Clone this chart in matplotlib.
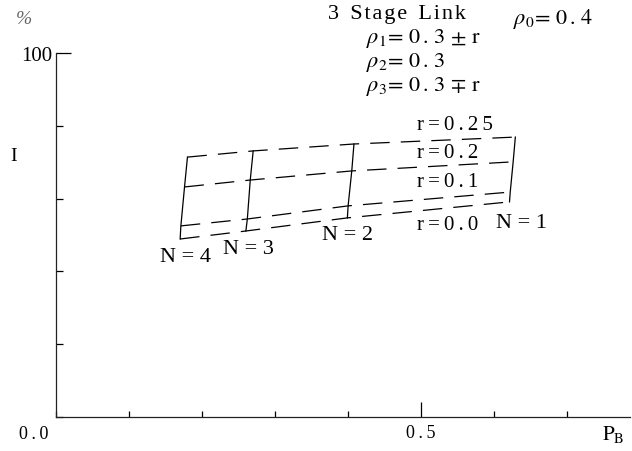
import matplotlib
matplotlib.use('Agg')
import matplotlib.pyplot as plt
from matplotlib.ticker import MultipleLocator

plt.rcParams['font.family'] = ['Liberation Serif', 'DejaVu Serif']
plt.rcParams['mathtext.fontset'] = 'stix'
plt.rcParams['lines.scale_dashes'] = False

TS = '\u2009'  # thin space for the wide letter spacing
HS = '\u200a'  # hair space


def spaced(s, sep=TS):
    return sep.join(s)


# r values of the curves and stage counts
r_values = [0.0, 0.1, 0.2, 0.25]
r_labels = ['r=0.0', 'r=0.1', 'r=0.2', 'r=0.25']
n_stages = [4, 3, 2, 1]

# P_B and I (%) for each N, ordered by r = 0.0, 0.1, 0.2, 0.25
pb_n4 = [0.170, 0.171, 0.176, 0.180]
pb_n3 = [0.260, 0.262, 0.266, 0.270]
pb_n2 = [0.399, 0.400, 0.405, 0.408]
pb_n1 = [0.621, 0.622, 0.626, 0.629]
i_n4 = [48.9, 52.5, 63.2, 71.4]
i_n3 = [51.1, 54.4, 65.1, 73.1]
i_n2 = [54.7, 58.0, 67.6, 75.0]
i_n1 = [59.1, 61.8, 70.1, 76.9]

pb = [pb_n4, pb_n3, pb_n2, pb_n1]
ival = [i_n4, i_n3, i_n2, i_n1]

fig = plt.figure(figsize=(6.32, 4.52), dpi=100)
ax = fig.add_axes([56 / 632, 1 - 418 / 452, 574 / 632, 364 / 452])

# constant-r curves (dashed) across N
for k in range(len(r_values)):
    xs = [pb[j][k] for j in range(len(n_stages))]
    ys = [ival[j][k] for j in range(len(n_stages))]
    ax.plot(xs, ys, color='black', lw=0.9, dashes=(14, 8))

# constant-N lines (solid) across r
for j in range(len(n_stages)):
    ax.plot(pb[j], ival[j], color='black', lw=0.9)

# annotations
r_lab_y = [53.0, 64.8, 72.8, 80.4]
for lab, yy in zip(r_labels, r_lab_y):
    ax.text(0.495, yy, spaced(lab), fontsize=15, ha='left', va='center')

n_lab_pos = [(0.177, 44.0), (0.263, 46.2), (0.399, 50.0), (0.637, 53.3)]
for n, (xx, yy) in zip(n_stages, n_lab_pos):
    ax.text(xx, yy, 'N = %d' % n, fontsize=16, ha='center', va='center')

ax.set_xlim(0, 0.786)
ax.set_ylim(0, 100)
for s in ['top', 'right']:
    ax.spines[s].set_visible(False)
for s in ['left', 'bottom']:
    ax.spines[s].set_linewidth(0.9)
    ax.spines[s].set_color('#222222')

ax.set_xticks([0.5])
ax.set_xticklabels([spaced('0.5')])
ax.xaxis.set_minor_locator(MultipleLocator(0.1))
ax.set_yticks([100])
ax.set_yticklabels(['100'])
ax.yaxis.set_minor_locator(MultipleLocator(20))
ax.tick_params(axis='x', which='major', direction='in', length=11, width=0.9,
               labelsize=13, pad=5)
ax.tick_params(axis='x', which='minor', direction='in', length=4, width=0.9)
ax.tick_params(axis='y', which='major', direction='in', length=11, width=0.9,
               labelsize=15, pad=3)
ax.tick_params(axis='y', which='minor', direction='in', length=5, width=0.9)

# axis labels and header
fig.text(34 / 632, 1 - 435 / 452, spaced('0.0'), fontsize=13, ha='center', va='center')
fig.text(613 / 632, 1 - 435 / 452, r'$\mathrm{P_B}$', fontsize=15, ha='center', va='center')
fig.text(14 / 632, 1 - 157 / 452, 'I', fontsize=14, ha='center', va='center')
fig.text(24 / 632, 1 - 20 / 452, '%', fontsize=14, ha='center', va='center',
         style='italic', color='#666666')

title = '  '.join(spaced(w, HS) for w in '3 Stage Link'.split())
fig.text(328 / 632, 1 - 15 / 452, title, fontsize=16, ha='left', va='center')
fig.text(513 / 632, 1 - 19 / 452, r'$\rho_0\!=\,0\,.\,4$', fontsize=16, ha='left', va='center')
fig.text(366 / 632, 1 - 39 / 452, r'$\rho_1\!=\,0\,.\,3\,\pm\,\mathrm{r}$', fontsize=16, ha='left', va='center')
fig.text(366 / 632, 1 - 62 / 452, r'$\rho_2\!=\,0\,.\,3$', fontsize=16, ha='left', va='center')
fig.text(366 / 632, 1 - 86 / 452, r'$\rho_3\!=\,0\,.\,3\,\mp\,\mathrm{r}$', fontsize=16, ha='left', va='center')

fig.savefig('out.png', dpi=100)
